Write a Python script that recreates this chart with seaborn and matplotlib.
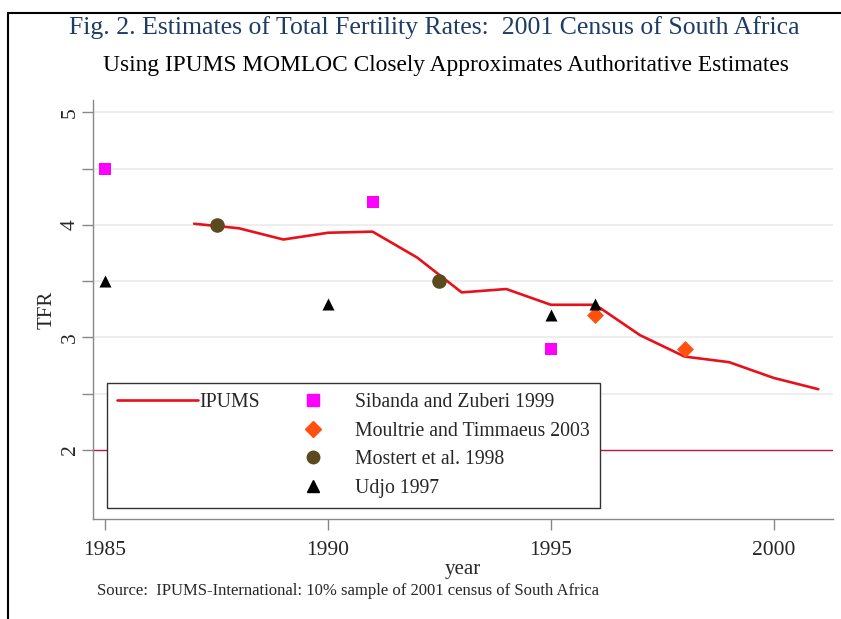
import numpy as np
import pandas as pd
import matplotlib
matplotlib.use("Agg")
import matplotlib.pyplot as plt
from matplotlib.lines import Line2D
import seaborn as sns

# IPUMS MOMLOC estimates by year
ipums_years = [1987, 1988, 1989, 1990, 1991, 1992, 1993, 1994, 1995, 1996, 1997, 1998, 1999, 2000, 2001]
ipums_tfr = [4.01, 3.97, 3.87, 3.93, 3.94, 3.71, 3.40, 3.43, 3.29, 3.29, 3.02, 2.83, 2.78, 2.64, 2.54]

sibanda_years = [1985, 1991, 1995]
sibanda_tfr = [4.5, 4.2, 2.9]
moultrie_years = [1996, 1998]
moultrie_tfr = [3.2, 2.9]
mostert_years = [1987.5, 1992.5]
mostert_tfr = [4.0, 3.5]
udjo_years = [1985, 1990, 1995, 1996]
udjo_tfr = [3.5, 3.3, 3.2, 3.3]

replacement_level = 2.0

sns.set_style("white")
plt.rcParams["font.family"] = ["Liberation Serif", "DejaVu Serif"]

fig = plt.figure(figsize=(8.41, 6.19), dpi=100)
ax = fig.add_axes([0.1106, 0.1616, 0.8794, 0.6764])

for y in np.arange(2.5, 5.01, 0.5):
    ax.axhline(y, color="#ebebeb", lw=1.2, zorder=0)
ax.axhline(replacement_level, color="#c8143c", lw=1.0, zorder=1)

ipums_df = pd.DataFrame({"year": ipums_years, "TFR": ipums_tfr})
sns.lineplot(data=ipums_df, x="year", y="TFR", ax=ax, color="#e8101a", lw=1.9, zorder=3)

sns.scatterplot(x=sibanda_years, y=sibanda_tfr, ax=ax, marker="s", s=80, color="#ff00ff", linewidth=0, zorder=4)
sns.scatterplot(x=moultrie_years, y=moultrie_tfr, ax=ax, marker="D", s=75, color="#ff5010", linewidth=0, zorder=4)
sns.scatterplot(x=mostert_years, y=mostert_tfr, ax=ax, marker="o", s=110, color="#5a4a1e", linewidth=0, zorder=4)
sns.scatterplot(x=udjo_years, y=udjo_tfr, ax=ax, marker="^", s=75, color="black", linewidth=0, zorder=4)

ax.set_xlim(1984.73, 2001.32)
ax.set_ylim(1.387, 5.107)
ax.set_xticks([1985, 1990, 1995, 2000])
ax.set_yticks(np.arange(2, 5.01, 0.5))
ax.set_yticklabels(["2", "", "3", "", "4", "", "5"], rotation=90, va="center")
ax.tick_params(axis="both", direction="out", length=8, width=1, color="#888888",
               labelsize=15.5, left=True, bottom=True)
ax.tick_params(axis="x", pad=8)
ax.tick_params(axis="y", pad=1.5)
for side in ["top", "right"]:
    ax.spines[side].set_visible(False)
for side in ["left", "bottom"]:
    ax.spines[side].set_color("#888888")
    ax.spines[side].set_linewidth(1)

ax.set_xlabel("year", fontsize=15, labelpad=0)
ax.set_ylabel("TFR", fontsize=15, labelpad=3)

blank = Line2D([], [], color="none")
handles = [
    Line2D([], [], color="#e8101a", lw=1.9),
    blank, blank, blank,
    Line2D([], [], marker="s", ls="none", color="#ff00ff", markersize=8),
    Line2D([], [], marker="D", ls="none", color="#ff5010", markersize=8),
    Line2D([], [], marker="o", ls="none", color="#5a4a1e", markersize=9),
    Line2D([], [], marker="^", ls="none", color="black", markersize=8),
]
labels = ["IPUMS", "", "", "", "Sibanda and Zuberi 1999", "Moultrie and Timmaeus 2003",
          "Mostert et al. 1998", "Udjo 1997"]
leg = ax.legend(handles, labels, ncol=2, loc="lower left", bbox_to_anchor=(0.019, 0.026),
                borderaxespad=0, fontsize=14.2, handlelength=4.1, handletextpad=0.1,
                columnspacing=0.6, labelspacing=0.5, frameon=True, fancybox=False,
                edgecolor="#333333", framealpha=1, borderpad=0.5)
leg.get_frame().set_linewidth(1)
leg.set_zorder(5)

fig.text(0.517, 0.955, "Fig. 2. Estimates of Total Fertility Rates:  2001 Census of South Africa",
         ha="center", va="center", fontsize=18.5, color="#1e3c64")
fig.text(0.53, 0.894, "Using IPUMS MOMLOC Closely Approximates Authoritative Estimates",
         ha="center", va="center", fontsize=16.8, color="black")
fig.text(0.115, 0.045, "Source:  IPUMS-International: 10% sample of 2001 census of South Africa",
         ha="left", va="center", fontsize=12)

fig.add_artist(Line2D([0.0095, 0.0095], [0.0, 0.979], color="black", lw=1.5, transform=fig.transFigure))
fig.add_artist(Line2D([0.0095, 1.0], [0.979, 0.979], color="black", lw=1.5, transform=fig.transFigure))

fig.savefig("out.png", dpi=100)
